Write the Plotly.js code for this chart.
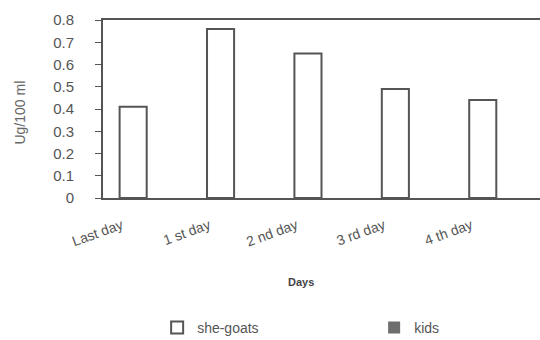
<!DOCTYPE html>
<html>
<head>
<meta charset="utf-8">
<script src="https://cdn.plot.ly/plotly-3.0.1.min.js"></script>
<style>html,body{margin:0;padding:0;background:#fff;}#chart{width:540px;height:340px;}</style>
</head>
<body>
<div id="chart"></div>
<script>
var days = ["Last day", "1 st day", "2 nd day", "3 rd day", "4 th day"];
var sheGoats = [0.41, 0.76, 0.65, 0.49, 0.44];
var kids = [0, 0, 0, 0, 0];
var yTicks = [0, 0.1, 0.2, 0.3, 0.4, 0.5, 0.6, 0.7, 0.8];
var yTickText = ["0", "0.1", "0.2", "0.3", "0.4", "0.5", "0.6", "0.7", "0.8"];

var traces = [
  {type: "bar", name: "she-goats", x: days, y: sheGoats,
   marker: {color: "#ffffff", line: {color: "#555555", width: 2}}},
  {type: "bar", name: "kids", x: days, y: kids,
   marker: {color: "#6e6e6e", line: {color: "#555555", width: 0}}}
];

var layout = {
  width: 540, height: 340,
  margin: {l: 103, r: 0, t: 20, b: 142, autoexpand: false},
  paper_bgcolor: "#ffffff", plot_bgcolor: "#ffffff",
  font: {family: "Liberation Sans, Arial, sans-serif", color: "#555555", size: 12},
  barmode: "group", bargap: 0.38, bargroupgap: 0,
  showlegend: true,
  legend: {orientation: "h", xref: "container", x: 0.291, xanchor: "left", y: -0.64, yanchor: "top",
           entrywidth: 172, font: {size: 14, color: "#555555"}},
  annotations: [
    {text: "Days", xref: "paper", yref: "paper", x: 0.453, y: -0.472, xanchor: "center", yanchor: "middle",
     showarrow: false, font: {size: 11, color: "#444444", weight: "bold"}},
    {text: "Ug/100 ml", xref: "paper", yref: "paper", x: -0.19, y: 0.48, xanchor: "center", yanchor: "middle",
     textangle: -90, showarrow: false, font: {size: 14, color: "#666666"}}
  ],
  xaxis: {type: "category", showline: true, linecolor: "#555555", linewidth: 2, mirror: true,
          ticks: "", showgrid: false, tickangle: -20, ticklabelshift: -25, ticklabelstandoff: 12,
          tickfont: {size: 14, color: "#555555"}},
  yaxis: {range: [0, 0.8], showline: true, linecolor: "#555555", linewidth: 2,
          ticks: "outside", ticklen: 6, tickcolor: "#555555", showgrid: false, zeroline: false,
          ticklabelstandoff: 18,
          tickvals: yTicks, ticktext: yTickText, tickfont: {size: 15, color: "#555555"}}
};

Plotly.newPlot("chart", traces, layout, {displayModeBar: false, staticPlot: true});
</script>
</body>
</html>
